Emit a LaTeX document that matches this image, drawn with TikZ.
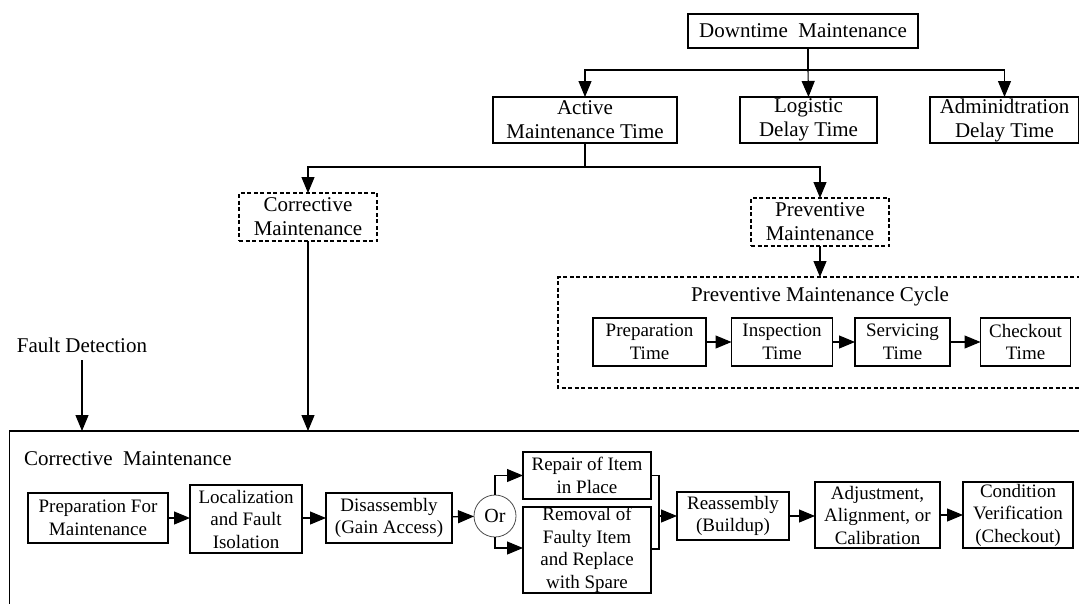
\documentclass[tikz,border=0pt]{standalone}
\usepackage{fontspec}
\setmainfont{Liberation Serif}
\usetikzlibrary{arrows.meta}
\begin{document}
\begin{tikzpicture}[x=1pt,y=-1pt,
  font=\fontsize{21}{24}\selectfont,
  line width=1.1pt,
  every node/.style={inner sep=0pt, outer sep=0pt},
  blk/.style={draw, align=center, minimum width=#1},
  blk/.default=100pt,
  sblk/.style={blk=#1, font=\fontsize{19}{22.5}\selectfont},
  dblk/.style={blk=#1, dash pattern=on 4pt off 2.5pt},
  arr/.style={-{Triangle[length=16pt,width=13pt]}}]
\useasboundingbox (0,0) rectangle (1079,603);
\clip (0,0) rectangle (1079,603);

% top level
\node[blk=230, minimum height=34] (dm) at (803,31) {Downtime\ \ Maintenance};
\node[blk=184, minimum height=46] (amt) at (585,120) {Active\\Maintenance Time};
\node[blk=137, minimum height=46] (ldt) at (808.5,120) {Logistic\\Delay Time};
\node[blk=149, minimum height=46] (adt) at (1004.5,120) {Adminidtration\\Delay Time};
\coordinate (t1) at (808,70);
\draw (dm.south -| t1) -- (t1);
\draw[arr] (t1) -| (amt.north);
\draw[arr] (t1) -- (ldt.north);
\draw[arr] (t1) -| (adt.north);

% active maintenance split
\node[dblk=138, minimum height=48] (cm) at (308,217) {Corrective\\Maintenance};
\node[dblk=138, minimum height=48] (pm) at (820,222) {Preventive\\Maintenance};
\coordinate (t2) at (585,167);
\draw (amt.south) -- (t2);
\draw[arr] (t2) -| (cm.north);
\draw[arr] (t2) -| (pm.north);

% preventive maintenance cycle
\draw[dash pattern=on 4pt off 2.5pt] (1100,277) -- (558,277) -- (558,388) -- (1100,388);
\coordinate (pmctop) at (820,277);
\draw[arr] (pm.south) -- (pmctop);
\node (pmct) at (820,296) {Preventive Maintenance Cycle};
\node[sblk=113, minimum height=48] (pt) at (649.5,342) {Preparation\\Time};
\node[sblk=101, minimum height=48] (it) at (782,342) {Inspection\\Time};
\node[sblk=95, minimum height=48] (st) at (902.5,342) {Servicing\\Time};
\node[sblk=90, minimum height=48] (ct) at (1025.5,342) {Checkout\\Time};
\draw[arr] (pt) -- (it);
\draw[arr] (it) -- (st);
\draw[arr] (st) -- (ct);

% corrective maintenance frame
\draw (1100,431) -- (9.5,431) -- (9.5,620);
\node[anchor=base west] (cmt) at (24,465) {Corrective\ \ Maintenance};
\node (fd) at (82,345) {Fault Detection};
\coordinate (fdtop) at (82,360);
\coordinate (fdbot) at (82,431);
\coordinate (cmbot) at (308,431);
\draw[arr] (fdtop) -- (fdbot);
\draw[arr] (cm.south) -- (cmbot);

% corrective maintenance steps
\node[sblk=140, minimum height=50] (pfm) at (98,518) {Preparation For\\Maintenance};
\node[sblk=112, minimum height=68] (lfi) at (246,519) {Localization\\and Fault\\Isolation};
\node[sblk=126, minimum height=50] (dis) at (389,518) {Disassembly\\(Gain Access)};
\node[draw, circle, minimum size=42, line width=0.8pt, draw=black!70, font=\fontsize{20}{22.5}\selectfont] (or) at (495,516) {Or};
\node[sblk=128, minimum height=47] (rip) at (587,475.5) {Repair of Item\\in Place};
\node[sblk=128, minimum height=86] (rem) at (587,550) {Removal of\\Faulty Item\\and Replace\\with Spare};
\node[sblk=112, minimum height=48] (rea) at (733,516) {Reassembly\\(Buildup)};
\node[sblk=125, minimum height=66] (adj) at (877.5,515) {Adjustment,\\Alignment, or\\Calibration};
\node[sblk=110, minimum height=66] (cv) at (1018,515) {Condition\\Verification\\(Checkout)};

\draw[arr] (pfm) -- (lfi.west |- pfm);
\draw[arr] (lfi.east |- dis) -- (dis);
\draw[arr] (dis) -- (or);
\coordinate (orup) at (495,475.5);
\coordinate (ordn) at (495,548);
\draw[arr] (or.north) -- (orup) -- (rip.west |- orup);
\draw[arr] (or.south) -- (ordn) -- (rem.west |- ordn);
\coordinate (jt) at (659,475.5);
\coordinate (jb) at (659,549);
\coordinate (jm) at (659,516);
\draw (rip.east |- jt) -- (jt) -- (jb) -- (rem.east |- jb);
\draw[arr] (jm) -- (rea.west |- jm);
\draw[arr] (rea) -- (adj.west |- rea);
\draw[arr] (adj) -- (cv);
\end{tikzpicture}
\end{document}
